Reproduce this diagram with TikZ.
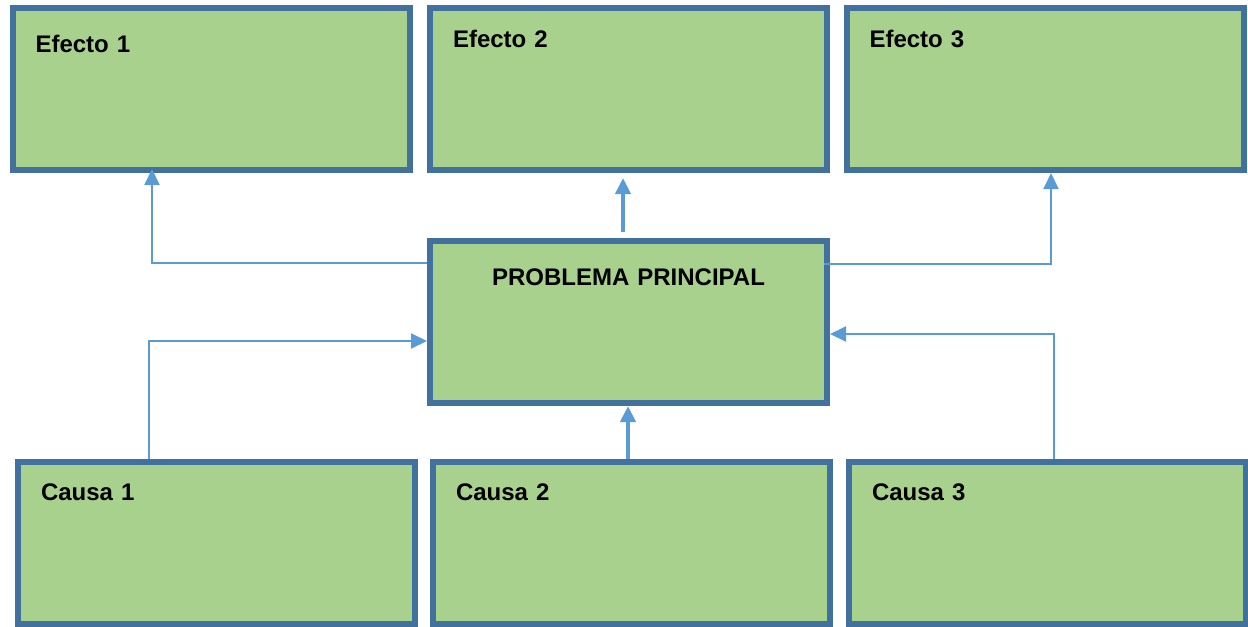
\documentclass[tikz,border=0pt]{standalone}
\usepackage{fontspec}
\setmainfont{Liberation Sans}
\usetikzlibrary{calc,arrows.meta}

\definecolor{verdecaja}{HTML}{A9D18E}
\definecolor{bordecaja}{HTML}{41719C}
\definecolor{azulflecha}{HTML}{5B9BD5}

\begin{document}
\begin{tikzpicture}[x=0.75pt,y=-0.75pt,
  >={Triangle[length=12pt,width=11.25pt]},
  caja/.style={draw=bordecaja,fill=verdecaja,line width=4.5pt,
    inner xsep=17.25pt,inner ysep=0pt,text width=263.25pt,align=left,
    text height=29.25pt,text depth=92.25pt,
    font=\bfseries\fontsize{18}{20}\selectfont},
  alta/.style={text height=33pt,text depth=88.5pt},
  flecha/.style={->,draw=azulflecha,line width=1.5pt},
  gruesa/.style={flecha,line width=3pt}]
  % Bounding box
  \useasboundingbox (0,0) rectangle (1248,626);
  %
  % Effects
  \node[caja,alta] (e1) at (211,89) {Efecto 1};
  \node[caja] (e2) at (628.5,89) {Efecto 2};
  \node[caja] (e3) at (1045,89) {Efecto 3};
  %
  % Main problem
  \node[caja,alta,align=center] (p) at (628.5,322) {PROBLEMA PRINCIPAL};
  %
  % Causes
  \node[caja] (c1) at (216.5,542.5) {Causa 1};
  \node[caja] (c2) at (631.5,542.5) {Causa 2};
  \node[caja] (c3) at (1047.5,542.5) {Causa 3};
  %
  % Problem to effects
  \draw[flecha] ($(p.north west)+(0,25)$) -| ($(e1.south)+(-59,-4)$);
  \draw[gruesa] ($(p.north)+(-5.5,-6)$) -- ($(e2.south)+(-5.5,5)$);
  \draw[flecha] ($(p.north east)+(-6,26)$) -| ($(e3.south)+(6,0)$);
  %
  % Causes to problem
  \draw[flecha] ($(c1.north)+(-67.5,0)$) |- ($(p.west)+(0,19)$);
  \draw[gruesa] ($(c2.north)+(-3.5,0)$) coordinate (c2a) -- (c2a |- p.south);
  \draw[flecha] ($(c3.north)+(6.5,0)$) |- ($(p.east)+(0,12)$);
  %
\end{tikzpicture}
\end{document}
